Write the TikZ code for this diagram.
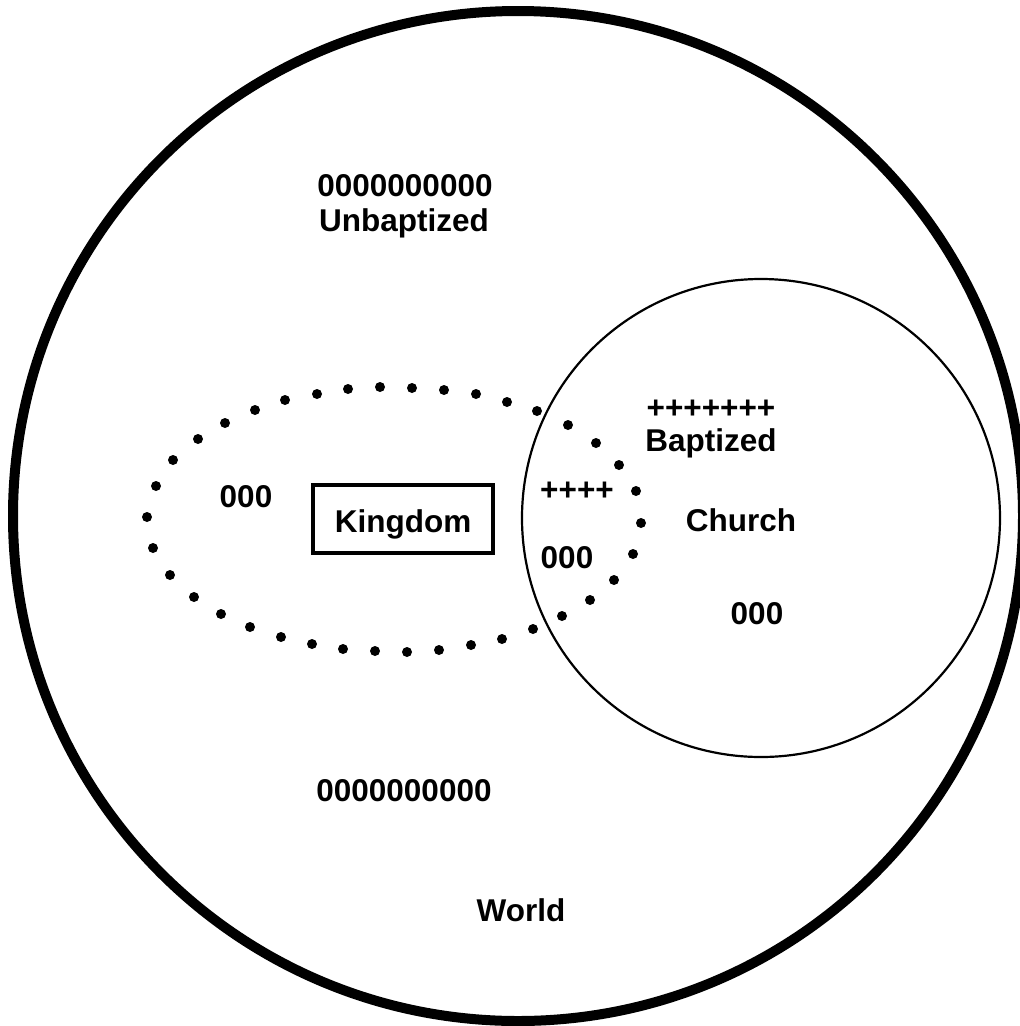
\documentclass[tikz,border=0pt]{standalone}
\usepackage{fontspec}
\setmainfont{Liberation Sans}
\begin{document}
\begin{tikzpicture}[x=1pt,y=-1pt,
  lbl/.style={font=\fontsize{31.5}{36}\selectfont\bfseries, inner sep=0pt, anchor=base},
  dot/.style={fill=black}]
\useasboundingbox (0,0) rectangle (1020,1026);
% World circle
\draw[line width=10pt] (518,516) circle[radius=505];
% Church circle
\draw[line width=2.2pt] (761,518) circle[radius=239];
% Kingdom dotted boundary
\foreach \p in {(147,517),(156,486),(173,460),(198,439),(225,423),(255,410),(285,400),(317,394),(348,389),(380,387),
  (412,388),(444,390),(476,394),(507,402),(537,411),(568,425),(596,443),(619,465),(636,491),(641,523),
  (633,554),(614,580),(590,600),(562,616),(533,629),(502,639),(471,645),(439,650),(407,652),
  (375,651),(343,649),(312,644),(281,637),(250,627),(221,614),(194,597),(170,575),(153,548)}
  \fill[dot] \p circle[radius=5];
% Kingdom box
\draw[line width=4.8pt] (313,485) rectangle (493,553);
\node[lbl] (kingdom) at (403,532) {Kingdom};
% labels
\node[lbl] (unbz) at (405,196) {0000000000};
\node[lbl] (unb) at (404,231) {Unbaptized};
\node[lbl] (bpl) at (711,418) {+++++++};
\node[lbl] (bap) at (711,451) {Baptized};
\node[lbl] (church) at (741,531) {Church};
\node[lbl] (kz) at (246,507) {000};
\node[lbl] (kp) at (577,500) {++++};
\node[lbl] (kcz) at (567,568) {000};
\node[lbl] (cz) at (757,624) {000};
\node[lbl] (wz) at (404,801) {0000000000};
\node[lbl] (world) at (521,921) {World};
\end{tikzpicture}
\end{document}
